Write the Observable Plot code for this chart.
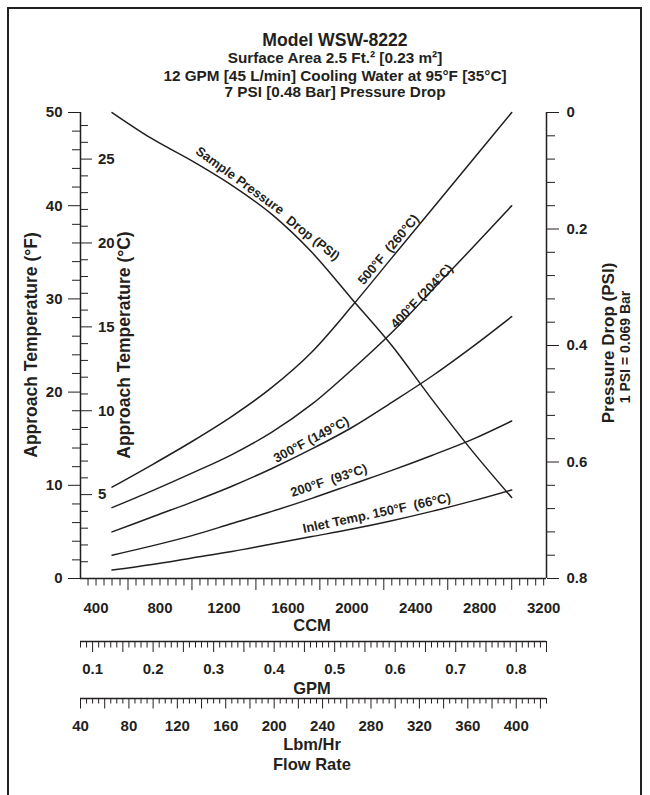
<!DOCTYPE html>
<html>
<head>
<meta charset="utf-8">
<script src="https://cdn.jsdelivr.net/npm/d3@7"></script>
<script src="https://cdn.jsdelivr.net/npm/@observablehq/plot@0.6"></script>
<style>
  body { margin: 0; background: #fff; }
  #page { position: relative; width: 650px; height: 795px; overflow: hidden; background: #fff;
          font-family: "Liberation Sans", Arial, sans-serif; font-weight: bold; color: #231f20; }
  #page svg { position: absolute; left: 0; }
  .t { position: absolute; white-space: pre; line-height: 1; transform: translate(-50%, -50%); }
  .r { transform: translate(-50%, -50%) rotate(-90deg); }
  #border { position: absolute; left: 7px; top: 7px; width: 631px; height: 900px;
            border: 2.5px solid #231f20; pointer-events: none; z-index: 5; }
</style>
</head>
<body>
<div id="page"><div id="border"></div></div>
<script>
// ---------- data ----------
const ccm = [500, 750, 1000, 1250, 1500, 1750, 2000, 2250, 2500, 2750, 3000];
const t500 = [9.8, 12.2, 14.7, 17.4, 20.5, 24.3, 29.2, 34.4, 39.6, 44.8, 50.0];
const t400 = [7.6, 9.4, 11.3, 13.3, 15.7, 18.7, 22.4, 26.4, 30.9, 35.4, 40.0];
const t300 = [5.0, 6.6, 8.2, 9.9, 11.8, 13.9, 16.2, 18.9, 21.7, 24.8, 28.1];
const t200 = [2.5, 3.5, 4.6, 5.9, 7.2, 8.6, 10.1, 11.6, 13.2, 14.9, 16.9];
const t150 = [0.9, 1.5, 2.2, 2.9, 3.7, 4.5, 5.3, 6.2, 7.2, 8.3, 9.5];
const psiDrop = [0.0, 0.045, 0.083, 0.125, 0.175, 0.240, 0.320, 0.400, 0.492, 0.580, 0.661];

const seriesNames = ["500", "400", "300", "200", "150"];
const seriesValues = [t500, t400, t300, t200, t150];

const labelText = ["Sample Pressure", "Drop (PSI)", "500°F  (260°C)", "400°F (204°C)", "300°F (149°C)", "200°F  (93°C)", "Inlet Temp. 150°F  (66°C)"];
const labelCCM = [1299, 1757, 2229, 2438, 1746, 1856, 2156];
const labelF = [42.7, 36.5, 35.3, 30.3, 14.9, 10.5, 7.0];
const labelAngle = [36, 38, -50, -46, -28, -18, -12];

const fMajor = [0, 10, 20, 30, 40, 50];
const fMinor = d3.range(2, 50, 2).filter(v => v % 10 !== 0);
const cMajor = [5, 10, 15, 20, 25];
const cMinor = d3.range(1, 28).filter(v => v % 5 !== 0);
const psiMajor = [0, 0.2, 0.4, 0.6, 0.8];
const psiMinor = [0.04, 0.08, 0.12, 0.16, 0.24, 0.28, 0.32, 0.36, 0.44, 0.48, 0.52, 0.56, 0.64, 0.68, 0.72, 0.76];
const ccmLabels = [400, 800, 1200, 1600, 2000, 2400, 2800, 3200];
const ccmTall = [600, 1000, 1400, 1800, 2200, 2600, 3000];
const ccmShort = d3.range(350, 3201, 50).filter(v => !ccmTall.includes(v));
const gpmLabels = [0.1, 0.2, 0.3, 0.4, 0.5, 0.6, 0.7, 0.8];
const gpmAll = d3.range(8, 86).map(v => v / 100);
const lbmLabels = [40, 80, 120, 160, 200, 240, 280, 320, 360, 400];
const lbmAll = d3.range(40, 426, 5);

// ---------- scales / conversions ----------
const CCM_PER_GPM = 3785.41;
const gpmDomain = [0.08, 0.85];
const lbmDomain = [40, 425];
const xDomain = gpmDomain.map(g => g * CCM_PER_GPM);
const F_PER_PSI = 62.5;             // 0 PSI at the 50 °F line, 0.8 PSI at the 0 °F line
const psiToF = p => 50 - p * F_PER_PSI;
const cToF = c => c * 1.8;

const INK = "#231f20";
const FONT = '"Liberation Sans", Arial, sans-serif';
const W = 650, ML = 80, MR = 104;
const frameW = W - ML - MR;
const TICKFONT = 15;

const curveData = seriesNames.flatMap((s, k) => ccm.map((c, i) => ({series: s, ccm: c, f: seriesValues[k][i]})));
const psiData = ccm.map((c, i) => ({ccm: c, psi: psiDrop[i]}));
const labels = labelText.map((t, i) => ({text: t, ccm: labelCCM[i], f: labelF[i], angle: labelAngle[i]}));

const baseStyle = {background: "transparent", fontFamily: FONT, fontWeight: "bold", color: INK, overflow: "visible"};

const main = Plot.plot({
  width: W, height: 600,
  marginLeft: ML, marginRight: MR, marginTop: 112, marginBottom: 22,
  x: {domain: xDomain, label: null},
  y: {domain: [0, 50], label: null},
  style: baseStyle,
  marks: [
    Plot.ruleY([0], {stroke: INK, strokeWidth: 1.5}),
    Plot.ruleX(xDomain, {stroke: INK, strokeWidth: 1.5}),
    // °F axis (left, outward)
    Plot.axisY(fMinor, {anchor: "left", tickSize: 8, tickFormat: () => "", label: null, stroke: INK}),
    Plot.axisY(fMajor, {anchor: "left", tickSize: 12, tickPadding: 6, fontSize: TICKFONT, tickFormat: d => String(d), label: null, stroke: INK}),
    // °C axis (left, inward)
    Plot.tickY(cMinor, {y: cToF, insetRight: frameW - 8, stroke: INK}),
    Plot.tickY(cMajor, {y: cToF, insetRight: frameW - 12, stroke: INK}),
    Plot.text(cMajor, {y: cToF, text: d => String(d), frameAnchor: "left", dx: 17.5, textAnchor: "start", fontSize: TICKFONT, fill: INK}),
    // PSI axis (right)
    Plot.axisY(psiMinor.map(psiToF), {anchor: "right", tickSize: 8, tickFormat: () => "", label: null, stroke: INK}),
    Plot.axisY(psiMajor.map(psiToF), {anchor: "right", tickSize: 12, tickPadding: 8, fontSize: TICKFONT,
      tickFormat: f => { const p = (50 - f) / F_PER_PSI; return p === 0 ? "0" : p.toFixed(1); }, label: null, stroke: INK}),
    // CCM axis
    Plot.axisX(ccmShort, {anchor: "bottom", tickSize: 7.5, tickFormat: () => "", label: null, stroke: INK}),
    Plot.axisX(ccmTall, {anchor: "bottom", tickSize: 12, tickFormat: () => "", label: null, stroke: INK}),
    Plot.axisX(ccmLabels, {anchor: "bottom", tickSize: 0, tickPadding: 23.5, fontSize: TICKFONT, tickFormat: d => String(d), label: null}),
    // curves
    Plot.line(curveData, {x: "ccm", y: "f", z: "series", curve: "monotone-x", stroke: INK, strokeWidth: 1.5}),
    Plot.line(psiData, {x: "ccm", y: d => psiToF(d.psi), curve: "monotone-x", stroke: INK, strokeWidth: 1.5}),
    Plot.text(labels, {x: "ccm", y: "f", text: "text", rotate: "angle", fontSize: 13, fill: INK})
  ]
});
main.style.top = "0px";

function subAxis(domain, all, tall, labelVals, fmt, top, tallLen, shortLen) {
  const shortVals = all.filter(v => !tall.some(t => Math.abs(t - v) < 1e-9));
  const svg = Plot.plot({
    width: W, height: 60,
    marginLeft: ML, marginRight: MR, marginTop: 0, marginBottom: 58,
    x: {domain, label: null},
    y: {domain: [0, 1], axis: null},
    style: baseStyle,
    marks: [
      Plot.ruleY([0], {stroke: INK, strokeWidth: 1.5}),
      Plot.axisX(shortVals, {anchor: "bottom", tickSize: shortLen, tickFormat: () => "", label: null, stroke: INK}),
      Plot.axisX(tall, {anchor: "bottom", tickSize: tallLen, tickFormat: () => "", label: null, stroke: INK}),
      Plot.axisX(labelVals, {anchor: "bottom", tickSize: 0, tickPadding: 22, fontSize: TICKFONT, tickFormat: fmt, label: null})
    ]
  });
  svg.style.top = top + "px";
  return svg;
}
const gpmTall = gpmAll.filter(v => Math.round(v * 100) % 5 === 0);
const lbmTall = lbmAll.filter(v => v % 20 === 0);
const gpmAxis = subAxis(gpmDomain, gpmAll, gpmTall, gpmLabels, d => d.toFixed(1), 639, 11, 6.5);
const lbmAxis = subAxis(lbmDomain, lbmAll, lbmTall, lbmLabels, d => String(d), 696, 10.5, 5.5);

const page = document.getElementById("page");
page.append(main, gpmAxis, lbmAxis);

function addText(txt, x, y, size, rotated) {
  const d = document.createElement("div");
  d.className = "t" + (rotated ? " r" : "");
  d.style.left = x + "px"; d.style.top = y + "px"; d.style.fontSize = size + "px";
  d.textContent = txt;
  page.append(d);
}
addText("Model WSW-8222", 335, 40.5, 17.6);
addText("Surface Area 2.5 Ft.² [0.23 m²]", 335, 58, 15.3);
addText("12 GPM [45 L/min] Cooling Water at 95°F [35°C]", 335, 75.5, 15.3);
addText("7 PSI [0.48 Bar] Pressure Drop", 335, 92, 15.3);
addText("Approach Temperature (°F)", 31.5, 345, 17.5, true);
addText("Approach Temperature (°C)", 125, 345, 17.5, true);
addText("Pressure Drop (PSI)", 607.5, 342.5, 17, true);
addText("1 PSI = 0.069 Bar", 625, 346.5, 14, true);
addText("CCM", 312, 624.5, 16.5);
addText("GPM", 312, 688, 16.5);
addText("Lbm/Hr", 312, 744, 16.5);
addText("Flow Rate", 312, 763.5, 16.5);
</script>
</body>
</html>
